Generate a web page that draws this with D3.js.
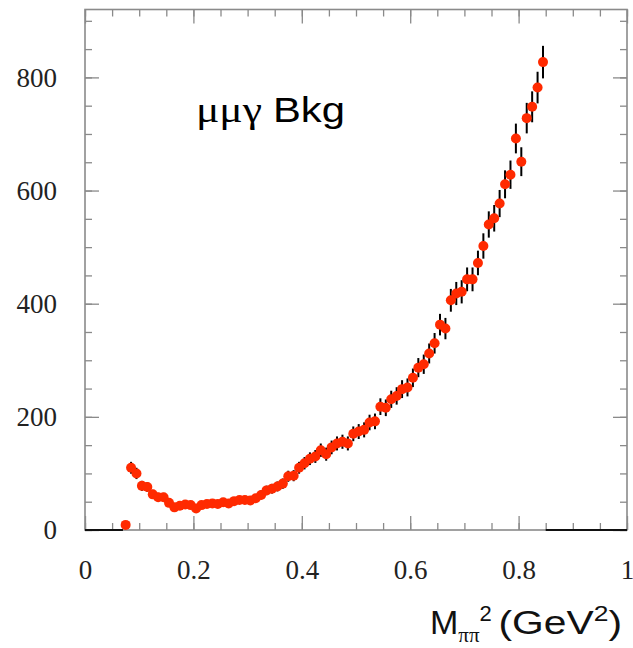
<!DOCTYPE html>
<html>
<head>
<meta charset="utf-8">
<script src="https://cdn.jsdelivr.net/npm/d3@7"></script>
<style>
  body { margin: 0; background: #fff; }
  svg { display: block; }
</style>
</head>
<body>
<div id="chart"></div>
<script>
// bin centres (GeV^2), bin width 0.01
const binCenters = [
  0.075, 0.085, 0.095, 0.105, 0.115, 0.125, 0.135, 0.145, 0.155, 0.165,
  0.175, 0.185, 0.195, 0.205, 0.215, 0.225, 0.235, 0.245, 0.255, 0.265,
  0.275, 0.285, 0.295, 0.305, 0.315, 0.325, 0.335, 0.345, 0.355, 0.365,
  0.375, 0.385, 0.395, 0.405, 0.415, 0.425, 0.435, 0.445, 0.455, 0.465,
  0.475, 0.485, 0.495, 0.505, 0.515, 0.525, 0.535, 0.545, 0.555, 0.565,
  0.575, 0.585, 0.595, 0.605, 0.615, 0.625, 0.635, 0.645, 0.655, 0.665,
  0.675, 0.685, 0.695, 0.705, 0.715, 0.725, 0.735, 0.745, 0.755, 0.765,
  0.775, 0.785, 0.795, 0.805, 0.815, 0.825, 0.835, 0.845
];
// entries per bin
const counts = [
  9, 110, 100, 78, 76, 63, 58, 58, 48, 40,
  43, 45, 44, 38, 44, 46, 47, 46, 49, 47,
  51, 53, 53, 52, 56, 62, 70, 73, 77, 82,
  95, 96, 110, 118, 126, 130, 141, 134, 146, 153,
  156, 153, 170, 174, 177, 190, 192, 218, 216, 231,
  237, 249, 252, 269, 287, 293, 312, 330, 363, 356,
  406, 418, 421, 443, 443, 472, 502, 540, 551, 577,
  611, 628, 692, 651, 728, 748, 782, 827
];
// empty regions of the histogram (drawn on the zero line)
const emptyRanges = [[0, 0.07], [0.85, 1]];

const xTicks = [0, 0.2, 0.4, 0.6, 0.8, 1];
const xTickLabels = ['0', '0.2', '0.4', '0.6', '0.8', '1'];
const yTicks = [0, 200, 400, 600, 800];
const yTickLabels = ['0', '200', '400', '600', '800'];

const width = 633, height = 648;
const plot = { left: 85, right: 627, top: 9.5, bottom: 530 };

const svg = d3.select('#chart').append('svg')
    .attr('width', width)
    .attr('height', height);

const x = d3.scaleLinear().domain([0, 1]).range([plot.left, plot.right]);
const y = d3.scaleLinear().domain([0, 920]).range([plot.bottom, plot.top]);

const axisColor = '#8a8a8a';
const minorX = d3.range(0, 1.0001, 0.05);
const minorY = d3.range(0, 901, 50);

// 目盛り（下・上・左・右）
function styleTicks(g) {
    g.select('.domain').remove();
    g.selectAll('line').attr('stroke', axisColor).attr('stroke-width', 1.3);
}

svg.append('g')
    .attr('transform', `translate(0,${plot.bottom})`)
    .call(d3.axisBottom(x).tickValues(minorX).tickSize(-7).tickFormat(''))
    .call(styleTicks);
svg.append('g')
    .attr('transform', `translate(0,${plot.bottom})`)
    .call(d3.axisBottom(x).tickValues(xTicks).tickSize(-14).tickPadding(29.5)
        .tickFormat((d, i) => xTickLabels[i]))
    .call(styleTicks);
svg.append('g')
    .attr('transform', `translate(0,${plot.top})`)
    .call(d3.axisTop(x).tickValues(minorX).tickSize(-7).tickFormat(''))
    .call(styleTicks);
svg.append('g')
    .attr('transform', `translate(0,${plot.top})`)
    .call(d3.axisTop(x).tickValues(xTicks).tickSize(-14).tickFormat(''))
    .call(styleTicks);

svg.append('g')
    .attr('transform', `translate(${plot.left},0)`)
    .call(d3.axisLeft(y).tickValues(minorY).tickSize(-7).tickFormat(''))
    .call(styleTicks);
svg.append('g')
    .attr('transform', `translate(${plot.left},0)`)
    .call(d3.axisLeft(y).tickValues(yTicks).tickSize(-14).tickPadding(28)
        .tickFormat((d, i) => yTickLabels[i]))
    .call(styleTicks);
svg.append('g')
    .attr('transform', `translate(${plot.right},0)`)
    .call(d3.axisRight(y).tickValues(minorY).tickSize(-7).tickFormat(''))
    .call(styleTicks);
svg.append('g')
    .attr('transform', `translate(${plot.right},0)`)
    .call(d3.axisRight(y).tickValues(yTicks).tickSize(-14).tickFormat(''))
    .call(styleTicks);

svg.selectAll('.tick text')
    .attr('font-family', '"Liberation Serif", "Times New Roman", serif')
    .attr('font-size', 27)
    .attr('fill', '#222');

// 枠
svg.append('rect')
    .attr('x', plot.left)
    .attr('y', plot.top)
    .attr('width', plot.right - plot.left)
    .attr('height', plot.bottom - plot.top)
    .attr('fill', 'none')
    .attr('stroke', axisColor)
    .attr('stroke-width', 1.6);

// 空のビン
svg.selectAll('.empty')
    .data(emptyRanges)
    .enter()
    .append('line')
    .attr('class', 'empty')
    .attr('x1', d => x(d[0]))
    .attr('x2', d => x(d[1]))
    .attr('y1', y(0))
    .attr('y2', y(0))
    .attr('stroke', '#111')
    .attr('stroke-width', 2);

const points = binCenters.map((c, i) => ({ x: c, v: counts[i] }));

// 誤差棒 (sqrt N)
svg.selectAll('.err')
    .data(points)
    .enter()
    .append('line')
    .attr('class', 'err')
    .attr('x1', d => x(d.x))
    .attr('x2', d => x(d.x))
    .attr('y1', d => y(d.v - Math.sqrt(d.v)))
    .attr('y2', d => y(d.v + Math.sqrt(d.v)))
    .attr('stroke', '#000')
    .attr('stroke-width', 2);

svg.selectAll('.pt')
    .data(points)
    .enter()
    .append('circle')
    .attr('class', 'pt')
    .attr('cx', d => x(d.x))
    .attr('cy', d => y(d.v))
    .attr('r', 5)
    .attr('fill', '#ff2a00');

// ラベル
svg.append('text')
    .attr('x', 196)
    .attr('y', 122)
    .attr('font-family', '"Liberation Serif", "Times New Roman", serif')
    .attr('font-size', 35)
    .attr('textLength', 66)
    .attr('lengthAdjust', 'spacingAndGlyphs')
    .text('μμγ');
svg.append('text')
    .attr('x', 273)
    .attr('y', 122)
    .attr('font-family', '"Liberation Sans", Arial, sans-serif')
    .attr('font-size', 35)
    .attr('textLength', 72)
    .attr('lengthAdjust', 'spacingAndGlyphs')
    .text('Bkg');

// x軸タイトル
const title = svg.append('text')
    .attr('x', 430)
    .attr('y', 634)
    .attr('font-family', '"Liberation Sans", Arial, sans-serif')
    .attr('font-size', 34)
    .attr('fill', '#111');
title.append('tspan').text('M');
title.append('tspan')
    .attr('font-family', '"Liberation Serif", "Times New Roman", serif')
    .attr('font-size', 21)
    .attr('dy', 8)
    .text('ππ');
title.append('tspan')
    .attr('font-size', 22)
    .attr('dy', -21)
    .text('2');
svg.append('text')
    .attr('x', 622)
    .attr('y', 634)
    .attr('text-anchor', 'end')
    .attr('transform', 'translate(622,0) scale(1.2,1) translate(-622,0)')
    .attr('font-family', '"Liberation Sans", Arial, sans-serif')
    .attr('font-size', 34)
    .attr('fill', '#111')
    .call(t => {
        t.append('tspan').text('(GeV');
        t.append('tspan').attr('font-size', 22).attr('dy', -13).text('2');
        t.append('tspan').attr('dy', 13).text(')');
    });
</script>
</body>
</html>
